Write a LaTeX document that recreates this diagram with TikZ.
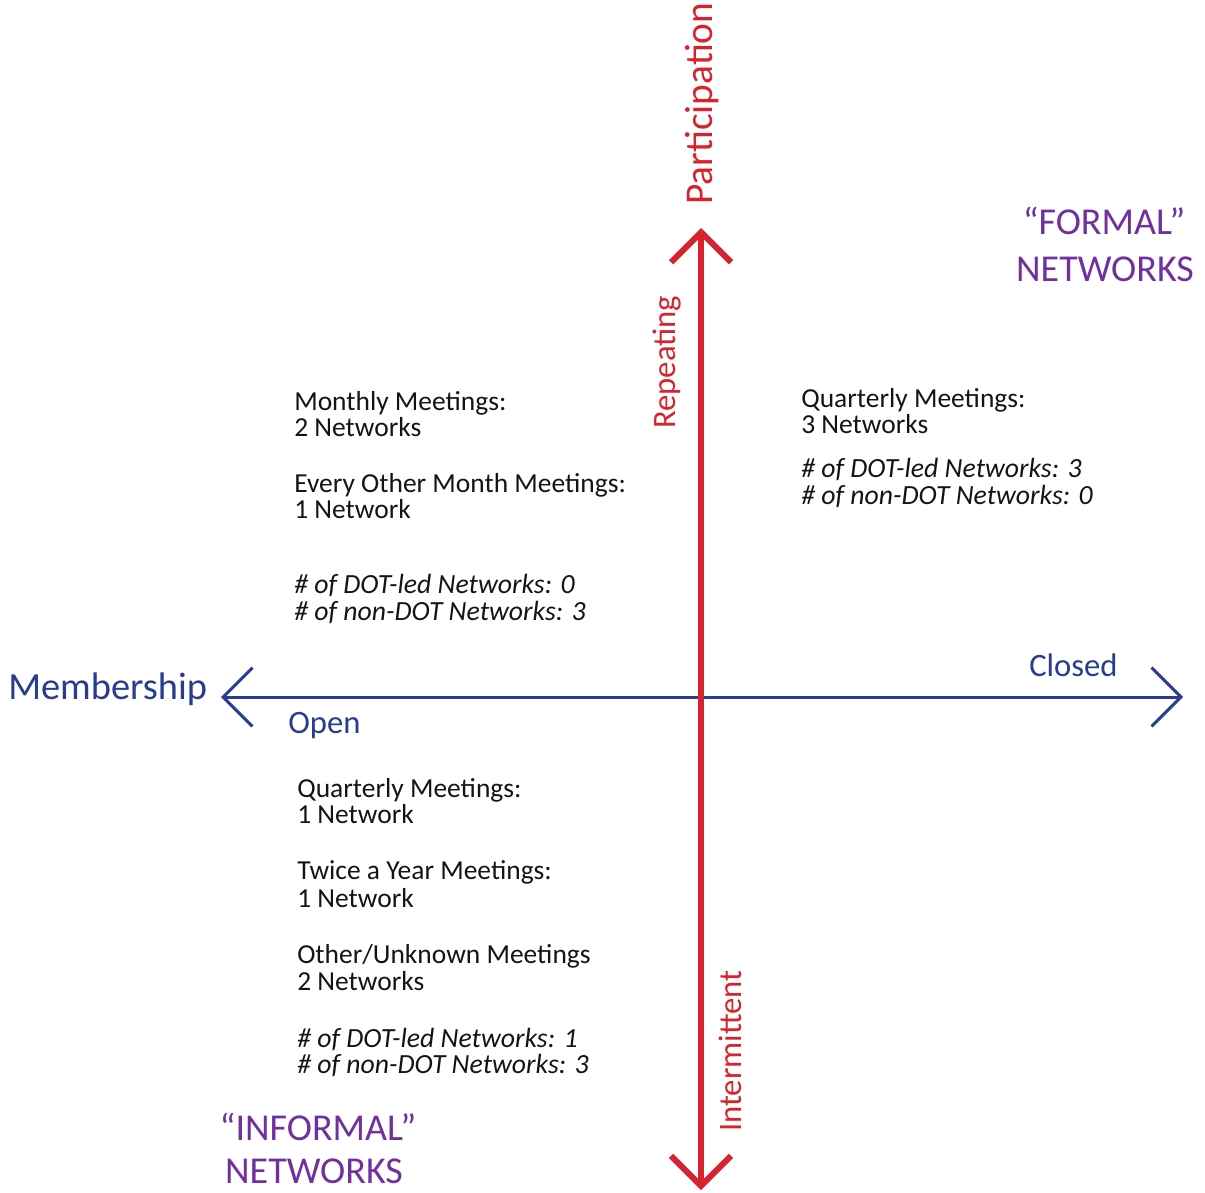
\documentclass[tikz,border=0pt]{standalone}
\usepackage{fontspec}
\setmainfont{Carlito}
\usetikzlibrary{arrows.meta}
\definecolor{axisred}{RGB}{215,35,45}
\definecolor{axisblue}{RGB}{40,60,145}
\definecolor{netpurple}{RGB}{112,48,160}
\definecolor{bodytext}{RGB}{20,20,20}
\tikzset{
  txt/.style={anchor=base west, inner sep=0pt, text=bodytext, font=\fontsize{20.6}{24}\selectfont},
  txtit/.style={txt, font=\fontsize{20.8}{24}\selectfont\itshape},
  axislbl/.style={anchor=base west, inner sep=0pt, font=\fontsize{24.5}{29}\selectfont},
  netlbl/.style={anchor=base, inner sep=0pt, text=netpurple, font=\fontsize{28.5}{33}\selectfont},
  redaxis/.style={draw=axisred, line width=4.5pt,
    {Straight Barb[length=22.5pt, width=45pt]}-{Straight Barb[length=22.5pt, width=45pt]}},
  blueaxis/.style={draw=axisblue, line width=2.25pt,
    {Straight Barb[length=22pt, width=44pt]}-{Straight Barb[length=22pt, width=44pt]}}
}

\begin{document}
\begin{tikzpicture}[x=0.75pt, y=-0.75pt]

  \useasboundingbox (0,0) rectangle (1205,1192);

  % axes
  \coordinate (ptop) at (701,228);
  \coordinate (pbot) at (701,1190);
  \coordinate (mleft) at (221,697);
  \coordinate (mright) at (1183,697);

  \draw[blueaxis] (mleft) -- (mright);
  \draw[redaxis] (pbot) -- (ptop);

  % axis labels
  \node[axislbl, rotate=90, text=axisred, font=\fontsize{29.5}{34}\selectfont] (particip) at (712,205) {Participation};
  \node[axislbl, rotate=90, text=axisred] (repeat) at (675,429) {Repeating};
  \node[axislbl, rotate=90, text=axisred] (intermit) at (741,1132) {Intermittent};

  \node[axislbl, text=axisblue, font=\fontsize{28.8}{33}\selectfont] (member) at (8,699) {Membership};
  \node[axislbl, text=axisblue] (open) at (288,733) {Open};
  \node[axislbl, text=axisblue] (closed) at (1029,676) {Closed};

  % quadrant titles
  \node[netlbl] (formal1) at (1104,234) {“FORMAL”};
  \node[netlbl] (formal2) at (1105,281) {NETWORKS};
  \node[netlbl] (informal1) at (318,1140) {“INFORMAL”};
  \node[netlbl] (informal2) at (314,1183) {NETWORKS};

  % upper left
  \node[txt] (ul1) at (294,410) {Monthly Meetings:};
  \node[txt] (ul2) at (294,436) {2 Networks};
  \node[txt] (ul3) at (294,492) {Every Other Month Meetings:};
  \node[txt] (ul4) at (294,518) {1 Network};
  \node[txtit] (ul5) at (294,593) {\# of DOT-led Networks: 0};
  \node[txtit] (ul6) at (294,620) {\# of non-DOT Networks: 3};

  % upper right
  \node[txt] (ur1) at (801,407) {Quarterly Meetings:};
  \node[txt] (ur2) at (801,433) {3 Networks};
  \node[txtit] (ur3) at (801,477) {\# of DOT-led Networks: 3};
  \node[txtit] (ur4) at (801,504) {\# of non-DOT Networks: 0};

  % lower left
  \node[txt] (ll1) at (297,797) {Quarterly Meetings:};
  \node[txt] (ll2) at (297,823) {1 Network};
  \node[txt] (ll3) at (297,879) {Twice a Year Meetings:};
  \node[txt] (ll4) at (297,907) {1 Network};
  \node[txt] (ll5) at (297,963) {Other/Unknown Meetings};
  \node[txt] (ll6) at (297,990) {2 Networks};
  \node[txtit] (ll7) at (297,1047) {\# of DOT-led Networks: 1};
  \node[txtit] (ll8) at (297,1073) {\# of non-DOT Networks: 3};

\end{tikzpicture}
\end{document}
